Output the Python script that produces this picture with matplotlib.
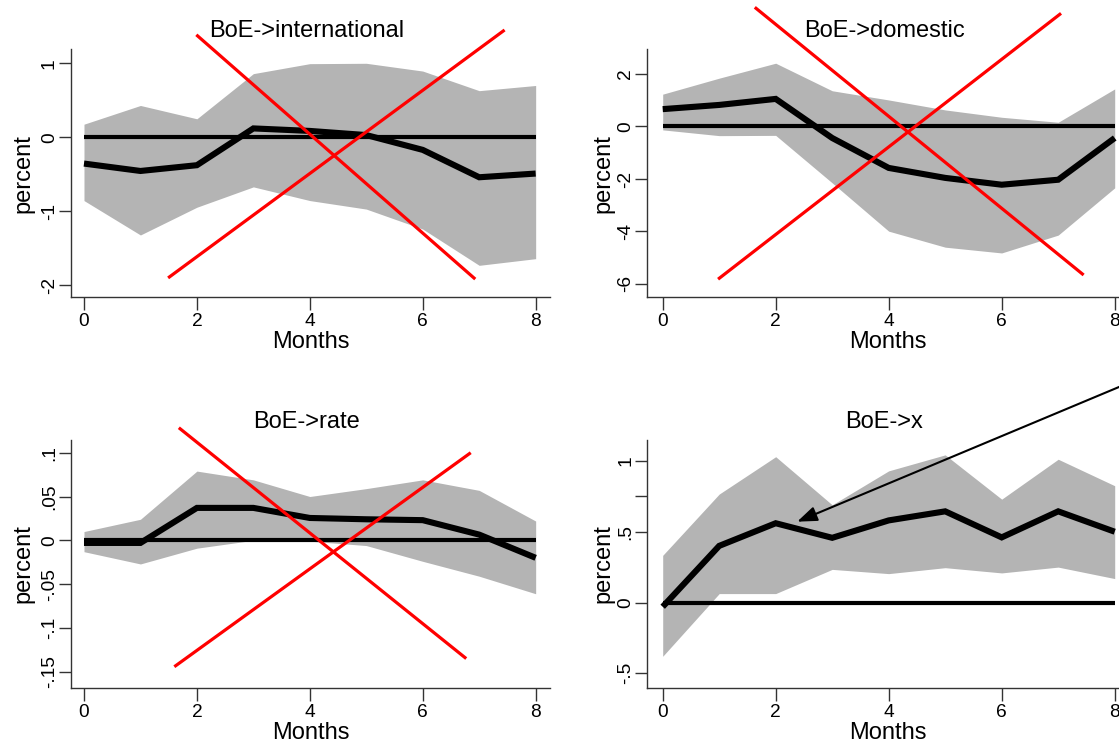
import matplotlib
matplotlib.use("Agg")
import matplotlib.pyplot as plt

plt.rcParams['font.family'] = ['Liberation Sans', 'DejaVu Sans']
plt.rcParams['axes.unicode_minus'] = False

months = [0, 1, 2, 3, 4, 5, 6, 7, 8]
xticks = [0, 2, 4, 6, 8]

# Panel 1: BoE->international
intl_irf = [-0.355, -0.455, -0.377, 0.12, 0.086, 0.03, -0.17, -0.54, -0.49]
intl_hi = [0.177, 0.43, 0.25, 0.86, 0.995, 1.0, 0.895, 0.63, 0.70]
intl_lo = [-0.855, -1.32, -0.945, -0.67, -0.855, -0.97, -1.24, -1.73, -1.64]
intl_yticks = [-2, -1, 0, 1]
intl_ylabels = ['-2', '-1', '0', '1']
intl_cross_a = ([1.99, 6.93], [1.385, -1.916])
intl_cross_b = ([1.49, 7.45], [-1.90, 1.45])

# Panel 2: BoE->domestic
dom_irf = [0.66, 0.82, 1.05, -0.44, -1.58, -1.96, -2.22, -2.03, -0.44]
dom_hi = [1.23, 1.84, 2.41, 1.36, 1.01, 0.63, 0.35, 0.16, 1.43]
dom_lo = [-0.13, -0.35, -0.34, -2.15, -3.99, -4.6, -4.82, -4.14, -2.34]
dom_yticks = [-6, -4, -2, 0, 2]
dom_ylabels = ['-6', '-4', '-2', '0', '2']
dom_cross_a = ([1.63, 7.45], [4.54, -5.66])
dom_cross_b = ([0.98, 7.05], [-5.82, 4.31])

# Panel 3: BoE->rate
rate_irf = [-0.003, -0.003, 0.037, 0.037, 0.0255, 0.024, 0.023, 0.0065, -0.020]
rate_hi = [0.010, 0.024, 0.079, 0.069, 0.050, 0.059, 0.069, 0.057, 0.022]
rate_lo = [-0.013, -0.027, -0.009, 0.0, -0.001, -0.006, -0.024, -0.041, -0.061]
rate_yticks = [-0.15, -0.1, -0.05, 0, 0.05, 0.1]
rate_ylabels = ['-.15', '-.1', '-.05', '0', '.05', '.1']
rate_cross_a = ([1.68, 6.77], [0.1285, -0.135])
rate_cross_b = ([1.60, 6.85], [-0.1443, 0.100])

# Panel 4: BoE->x
x_irf = [-0.03, 0.40, 0.56, 0.457, 0.58, 0.644, 0.46, 0.644, 0.50]
x_hi = [0.333, 0.766, 1.03, 0.69, 0.93, 1.043, 0.73, 1.012, 0.825]
x_lo = [-0.38, 0.063, 0.063, 0.234, 0.204, 0.246, 0.209, 0.25, 0.169]
x_yticks = [-0.5, 0, 0.5, 1]
x_ylabels = ['-.5', '0', '.5', '1']
x_minor = [0.75]
arrow_tip = (2.38, 0.571)
arrow_start = (8.6, 1.61)

W, H = 1119, 745
fig = plt.figure(figsize=(W / 100, H / 100), dpi=100)


def make_ax(left, right, top, bottom):
    return fig.add_axes([left / W, 1 - bottom / H, (right - left) / W, (bottom - top) / H])


ax1 = make_ax(71, 550, 49.3, 297.3)
ax2 = make_ax(647.3, 1129, 49.3, 297.3)
ax3 = make_ax(71, 550, 440, 688)
ax4 = make_ax(647.3, 1129, 440, 688)

panels = [
    (ax1, "BoE->international", intl_irf, intl_lo, intl_hi, intl_yticks, intl_ylabels,
     (-0.230, 8.254), (-2.162, 1.189), [intl_cross_a, intl_cross_b], -0.100),
    (ax2, "BoE->domestic", dom_irf, dom_lo, dom_hi, dom_yticks, dom_ylabels,
     (-0.2726, 8.253), (-6.51, 2.94), [dom_cross_a, dom_cross_b], -0.092),
    (ax3, "BoE->rate", rate_irf, rate_lo, rate_hi, rate_yticks, rate_ylabels,
     (-0.230, 8.254), (-0.1686, 0.1145), [rate_cross_a, rate_cross_b], -0.100),
    (ax4, "BoE->x", x_irf, x_lo, x_hi, x_yticks, x_ylabels,
     (-0.2726, 8.253), (-0.604, 1.148), [], -0.092),
]

axis_color = '#333333'
for ax, title, irf, lo, hi, yt, yl, xl, ylim, crosses, ylab_x in panels:
    ax.fill_between(months, lo, hi, color='#b4b4b4', linewidth=0, zorder=1)
    ax.plot([months[0], months[-1]], [0, 0], color='black', lw=3.0,
            solid_capstyle='butt', zorder=2)
    ax.plot(months, irf, color='black', lw=4.4, solid_capstyle='butt',
            solid_joinstyle='miter', zorder=3)
    for cx, cy in crosses:
        ax.plot(cx, cy, color='#ff0000', lw=2.3, clip_on=False, zorder=5,
                solid_capstyle='butt')
    ax.set_xlim(*xl)
    ax.set_ylim(*ylim)
    ax.set_xticks(xticks)
    ax.set_xticklabels([str(t) for t in xticks])
    ax.set_yticks(yt)
    ax.set_yticklabels(yl, rotation=90, va='center')
    for s in ['top', 'right']:
        ax.spines[s].set_visible(False)
    for s in ['left', 'bottom']:
        ax.spines[s].set_color(axis_color)
        ax.spines[s].set_linewidth(1.0)
    ax.tick_params(axis='x', length=9.6, width=1.0, color=axis_color, pad=2,
                   labelsize=13.8)
    ax.tick_params(axis='y', which='both', length=8.4, width=1.0, color=axis_color,
                   pad=1, labelsize=13.8)
    ax.set_xlabel("Months", fontsize=17, va='center')
    ax.xaxis.set_label_coords(0.5, -0.182)
    ax.set_ylabel("percent", fontsize=17, va='center')
    ax.yaxis.set_label_coords(ylab_x, 0.5)
    ax.text(0.492, 1.074, title, transform=ax.transAxes, ha='center', va='center',
            fontsize=17)
    ax.set_facecolor('white')

ax4.set_yticks(x_minor, minor=True)

ax4.annotate("", xy=arrow_tip, xytext=arrow_start, xycoords='data', textcoords='data',
             annotation_clip=False,
             arrowprops=dict(arrowstyle='-|>,head_length=0.8,head_width=0.3',
                             mutation_scale=15, color='black', lw=1.5,
                             shrinkA=0, shrinkB=0),
             zorder=6)

fig.savefig("out.png", dpi=100, facecolor='white')
